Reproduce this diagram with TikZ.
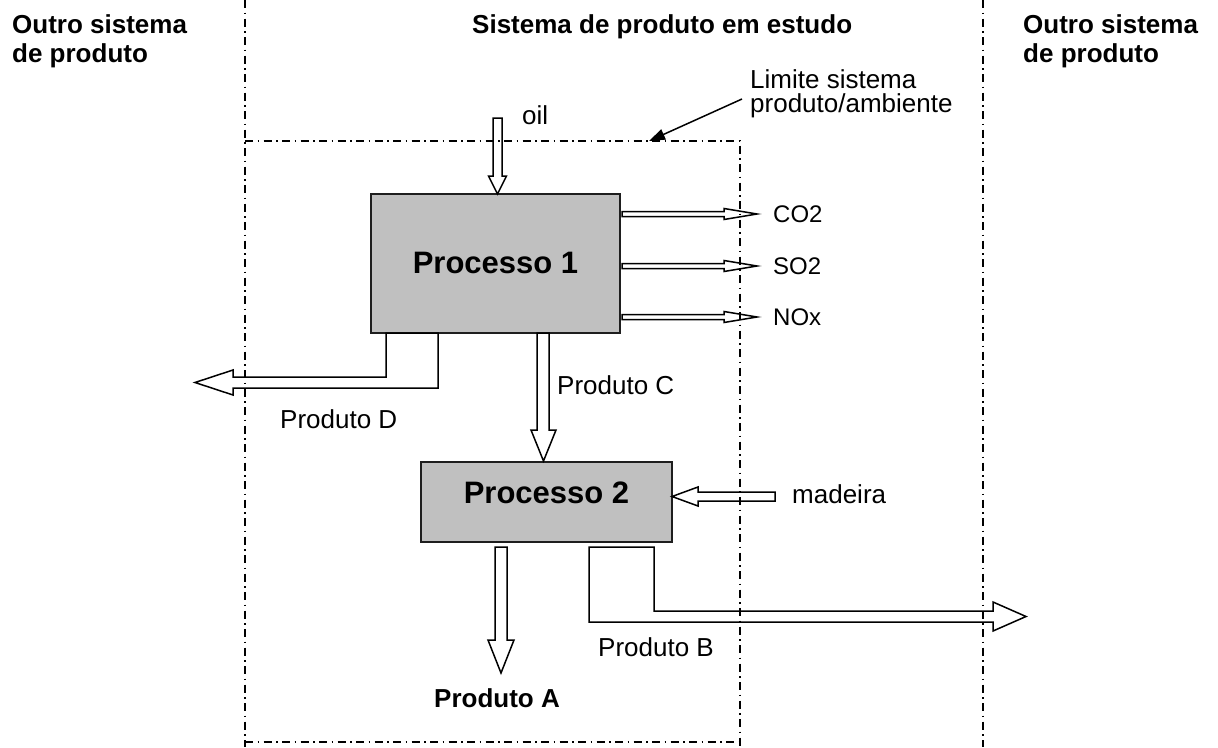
\documentclass[tikz,border=0pt]{standalone}
\usepackage{fontspec}
\setmainfont{Liberation Sans}
\usetikzlibrary{arrows.meta}
\definecolor{boxgray}{RGB}{192,192,192}
\definecolor{edgegray}{RGB}{30,30,30}

\begin{document}
\begin{tikzpicture}[
  x={(1pt,0)}, y={(0,-1pt)},
  boundary/.style={line width=1.3pt, dash pattern=on 8pt off 4.5pt on 1.5pt off 4.5pt},
  procbox/.style={draw=edgegray, line width=2pt, fill=boxgray, inner sep=0pt},
  blockarrow/.style={draw=black, line width=1.5pt, line join=miter},
  lbl/.style={font=\fontsize{26}{26}\selectfont, inner sep=0pt},
  smalllbl/.style={font=\fontsize{24}{24}\selectfont, inner sep=0pt},
  hdr/.style={font=\bfseries\fontsize{26}{26}\selectfont, inner sep=0pt},
  proctext/.style={font=\bfseries\fontsize{31}{31}\selectfont, inner sep=0pt},
]
\useasboundingbox (0,0) rectangle (1218,747);

% system boundaries
\draw[boundary] (245,0) -- (245,747);
\draw[boundary] (983,0) -- (983,747);
\coordinate (bTL) at (245,141);
\coordinate (bTR) at (740,141);
\coordinate (bBR) at (740,747);
\coordinate (bBL) at (245,742);
\draw[boundary] (bTL) -- (bTR) -- (bBR);
\draw[boundary] (bBL) -- (740,742);

% headings
\node[hdr, anchor=base west] (hL1) at (12,33) {Outro sistema};
\node[hdr, anchor=base west] (hL2) at (12,62) {de produto};
\node[hdr, anchor=base west] (hC) at (472,33) {Sistema de produto em estudo};
\node[hdr, anchor=base west] (hR1) at (1023,33) {Outro sistema};
\node[hdr, anchor=base west] (hR2) at (1023,62) {de produto};

% boundary annotation
\node[lbl, anchor=base west] (lim1) at (750,88) {Limite sistema};
\node[lbl, anchor=base west] (lim2) at (750,112) {produto/ambiente};
\coordinate (limFrom) at (742,99);
\coordinate (limTo) at (649,141);
\draw[line width=1.5pt, -{Triangle[length=16pt,width=11pt]}] (limFrom) -- (limTo);

% processes
\node[procbox, minimum width=249pt, minimum height=139pt] (p1) at (495.5,263.5) {};
\node[proctext, anchor=base] (p1t) at (495.5,273) {Processo 1};
\node[procbox, minimum width=251pt, minimum height=80pt] (p2) at (546.5,502) {};
\node[proctext, anchor=base] (p2t) at (546.5,503) {Processo 2};

% oil input
\draw[blockarrow] (493,118) -- (502,118) -- (502,176) -- (506.5,176) -- (497.5,194)
  -- (488.5,176) -- (493,176) -- cycle;
\node[lbl, anchor=base west] (oil) at (522,124) {oil};

% emissions
\foreach \yy/\name/\txt in {214/co/CO2, 266/so/SO2, 317/no/NOx}{
  \draw[blockarrow] (622,\yy-2.5) -- (724,\yy-2.5) -- (724,\yy-5.5) -- (757,\yy)
    -- (724,\yy+5.5) -- (724,\yy+2.5) -- (622,\yy+2.5) -- cycle;
  \node[smalllbl, anchor=base west] (\name) at (773,\yy+8.5) {\txt};
}

% Produto D leaves to the left
\draw[blockarrow] (386,333) -- (386,377) -- (233,377) -- (233,370) -- (195,382.5)
  -- (233,395) -- (233,388) -- (438,388) -- (438,333) -- cycle;
\node[lbl, anchor=base west] (pd) at (280,428) {Produto D};

% Produto C from process 1 to process 2
\draw[blockarrow] (537,333) -- (537,430) -- (531,430) -- (543.5,461) -- (556,430)
  -- (549,430) -- (549,333) -- cycle;
\node[lbl, anchor=base west] (pc) at (557,394) {Produto C};

% wood input
\draw[blockarrow] (775,492) -- (698,492) -- (698,487) -- (672,496.5) -- (698,506)
  -- (698,501) -- (775,501) -- cycle;
\node[lbl, anchor=base west] (mad) at (792,503) {madeira};

% Produto A
\draw[blockarrow] (495,547) -- (495,640) -- (488,640) -- (501,673) -- (514,640)
  -- (507,640) -- (507,547) -- cycle;
\node[hdr, anchor=base west] (pa) at (434,707) {Produto A};

% Produto B leaves to the right
\draw[blockarrow] (589,547) -- (589,622) -- (993,622) -- (993,631) -- (1026,616.5)
  -- (993,602) -- (993,611) -- (654,611) -- (654,547) -- cycle;
\node[lbl, anchor=base west] (pb) at (598,656) {Produto B};
\end{tikzpicture}
\end{document}
